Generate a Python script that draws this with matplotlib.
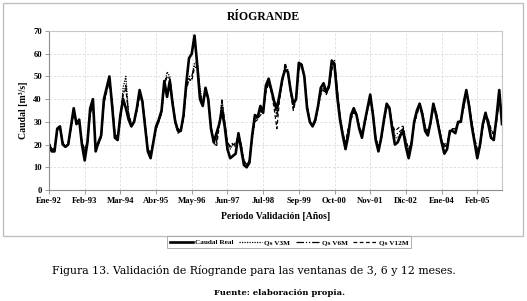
import numpy as np
import matplotlib
matplotlib.use("Agg")
import matplotlib.pyplot as plt
from matplotlib.patches import Rectangle
from matplotlib.lines import Line2D

# ---------------- data ----------------
tick_labels = ["Ene-92", "Feb-93", "Mar-94", "Abr-95", "May-96", "Jun-97", "Jul-98",
               "Sep-99", "Oct-00", "Nov-01", "Dic-02", "Ene-04", "Feb-05"]
tick_step = 13

caudal_real = [
    20, 17, 17, 27, 28, 20, 19, 20, 28, 36,
    29, 31, 20, 13, 21, 36, 40, 17, 21, 24,
    40, 45, 50, 37, 23, 22, 33, 40, 36, 31,
    28, 30, 36, 44, 39, 28, 17, 14, 21, 28,
    31, 35, 48, 41, 48, 38, 30, 26, 26, 33,
    47, 58, 60, 68, 55, 40, 37, 45, 40, 27,
    21, 25, 29, 35, 28, 18, 14, 15, 16, 25,
    18, 11, 10, 12, 24, 33, 32, 37, 34, 46,
    49, 44, 39, 36, 42, 49, 53, 52, 44, 38,
    40, 56, 55, 50, 36, 30, 28, 31, 37, 45,
    47, 43, 46, 57, 55, 41, 31, 24, 18, 24,
    33, 36, 33, 27, 23, 30, 36, 42, 33, 22,
    17, 23, 31, 38, 36, 27, 20, 21, 24, 26,
    19, 14, 20, 30, 35, 38, 33, 26, 24, 30,
    38, 33, 27, 21, 16, 18, 26, 26, 25, 30,
    30, 38, 44, 37, 28, 21, 14, 20, 29, 34,
    29, 23, 22, 32, 44, 29]

qs_v3m = [
    21, 18, 18, 26, 28, 21, 19, 20, 27, 35,
    30, 30, 21, 17, 20, 33, 38, 19, 20, 23,
    38, 44, 49, 39, 24, 23, 31, 45, 50, 33,
    29, 30, 35, 42, 40, 30, 18, 16, 21, 27,
    30, 34, 46, 52, 50, 40, 31, 27, 27, 32,
    45, 48, 49, 56, 56, 45, 38, 44, 41, 28,
    22, 22, 29, 40, 30, 20, 18, 20, 19, 25,
    20, 13, 11, 13, 23, 31, 33, 34, 35, 44,
    48, 45, 40, 34, 41, 48, 54, 53, 45, 36,
    41, 54, 56, 51, 38, 31, 28, 30, 36, 43,
    45, 43, 45, 53, 57, 45, 33, 26, 20, 27,
    32, 35, 34, 28, 24, 29, 35, 41, 35, 23,
    19, 22, 30, 37, 37, 29, 23, 23, 25, 27,
    21, 17, 21, 29, 34, 38, 35, 28, 25, 29,
    37, 35, 28, 22, 19, 20, 25, 27, 27, 29,
    31, 36, 43, 39, 30, 23, 17, 19, 28, 33,
    31, 26, 24, 30, 41, 34]

qs_v6m = [
    20, 18, 18, 26, 28, 21, 19, 20, 27, 34,
    30, 30, 21, 17, 21, 34, 37, 19, 20, 23,
    39, 44, 49, 39, 24, 22, 32, 42, 46, 33,
    29, 30, 36, 42, 40, 29, 18, 16, 21, 27,
    30, 34, 47, 50, 49, 39, 30, 27, 26, 32,
    45, 50, 50, 55, 55, 43, 37, 44, 40, 28,
    22, 21, 29, 38, 30, 21, 19, 21, 20, 24,
    20, 13, 11, 13, 23, 31, 32, 35, 34, 44,
    48, 44, 39, 32, 41, 48, 55, 52, 44, 36,
    41, 54, 55, 50, 37, 30, 28, 30, 37, 43,
    45, 43, 45, 54, 56, 44, 32, 25, 20, 26,
    32, 35, 33, 28, 24, 29, 35, 41, 34, 23,
    19, 22, 30, 37, 36, 28, 24, 25, 26, 27,
    21, 17, 21, 29, 34, 37, 34, 27, 25, 29,
    37, 34, 28, 22, 19, 20, 25, 27, 27, 29,
    31, 36, 43, 38, 30, 22, 17, 19, 28, 33,
    30, 26, 24, 30, 40, 33]

qs_v12m = [
    21, 18, 18, 26, 27, 21, 19, 21, 27, 35,
    30, 29, 21, 18, 21, 34, 37, 19, 21, 24,
    38, 43, 48, 38, 25, 23, 32, 43, 44, 34,
    29, 30, 35, 41, 39, 29, 18, 16, 21, 27,
    30, 34, 46, 50, 49, 39, 29, 25, 26, 31,
    44, 49, 48, 54, 54, 43, 37, 43, 40, 28,
    21, 19, 28, 39, 30, 21, 19, 20, 20, 25,
    19, 12, 11, 13, 22, 30, 31, 33, 34, 43,
    47, 43, 36, 27, 40, 48, 56, 52, 43, 35,
    40, 53, 55, 50, 37, 30, 28, 30, 36, 42,
    44, 42, 45, 53, 56, 44, 32, 25, 21, 27,
    31, 34, 33, 28, 25, 29, 35, 40, 34, 23,
    19, 22, 29, 36, 36, 29, 26, 27, 28, 28,
    22, 18, 21, 29, 33, 37, 34, 28, 26, 29,
    36, 34, 28, 22, 20, 21, 25, 27, 27, 29,
    30, 36, 42, 38, 30, 23, 18, 19, 27, 33,
    31, 27, 25, 30, 39, 33]

series_names = ["Caudal Real", "Qs V3M", "Qs V6M", "Qs V12M"]

# ---------------- figure ----------------
W, H = 527, 301
fig = plt.figure(figsize=(W / 100, H / 100), dpi=100)
serif = ["Liberation Serif", "DejaVu Serif"]
plt.rcParams["font.family"] = serif

def fx(px):
    return px / W

def fy(py):
    return 1 - py / H

# outer chart frame
fig.patches.append(Rectangle((fx(3), fy(236)), fx(520), (233) / H,
                             transform=fig.transFigure, fill=False,
                             edgecolor="#bfbfbf", linewidth=1.0))

ax = fig.add_axes([fx(49), fy(190), fx(502 - 49), (190 - 31) / H])

x = np.arange(len(caudal_real))
styles = [
    dict(color="black", lw=1.9, ls="-"),
    dict(color="black", lw=0.9, ls=(0, (1, 1))),
    dict(color="black", lw=0.9, ls=(0, (6, 1.5, 1, 1.5, 1, 1.5))),
    dict(color="black", lw=0.9, ls=(0, (3, 2))),
]
datas = [caudal_real, qs_v3m, qs_v6m, qs_v12m]
# draw models first, real line on top
for d, st, nm in list(zip(datas, styles, series_names))[::-1]:
    ax.plot(x, d, label=nm, solid_joinstyle="round", **st)

ax.set_xlim(0, len(caudal_real) - 1)
ax.set_ylim(0, 70)
ax.set_yticks(np.arange(0, 71, 10))
tick_pos = np.arange(0, len(tick_labels) * tick_step, tick_step)
ax.set_xticks(tick_pos)
ax.set_xticklabels(tick_labels)

ax.grid(True, color="#dcdcdc", linestyle=(0, (3, 2)), linewidth=0.6)
ax.set_axisbelow(True)
for s in ["top", "right"]:
    ax.spines[s].set_color("#c8c8c8")
for s in ["left", "bottom"]:
    ax.spines[s].set_color("#8c8c8c")
for s in ax.spines.values():
    s.set_linewidth(0.8)

ax.tick_params(axis="both", labelsize=6.2, length=3, width=0.6, color="#8c8c8c",
               pad=2)
for lab in ax.get_xticklabels() + ax.get_yticklabels():
    lab.set_fontweight("bold")

ax.set_ylabel("Caudal [m³/s]", fontsize=7, fontweight="bold", labelpad=4)
ax.set_xlabel("Periodo Validación [Años]", fontsize=7, fontweight="bold", labelpad=5)

fig.text(fx(263), fy(17), "RÍOGRANDE", ha="center", va="center",
         fontsize=8.5, fontweight="bold")

# legend
handles = [Line2D([], [], **st) for st in styles]
leg = fig.legend(handles, series_names, loc="center",
                 bbox_to_anchor=(fx(289), fy(242)), ncol=4, fontsize=5.2,
                 frameon=True, fancybox=False, edgecolor="#9a9a9a",
                 handlelength=3.2, handletextpad=0.3, columnspacing=0.8,
                 borderpad=0.35)
leg.get_frame().set_linewidth(0.7)
for t in leg.get_texts():
    t.set_fontweight("bold")

fig.text(fx(254), fy(271), "Figura 13. Validación de Ríogrande para las ventanas de 3, 6 y 12 meses.",
         ha="center", va="center", fontsize=7.8, family=["DejaVu Serif"])
fig.text(fx(280), fy(293), "Fuente: elaboración propia.", ha="center", va="center",
         fontsize=6.0, fontweight="bold", family=["DejaVu Serif"])

fig.savefig("out.png", dpi=100)
